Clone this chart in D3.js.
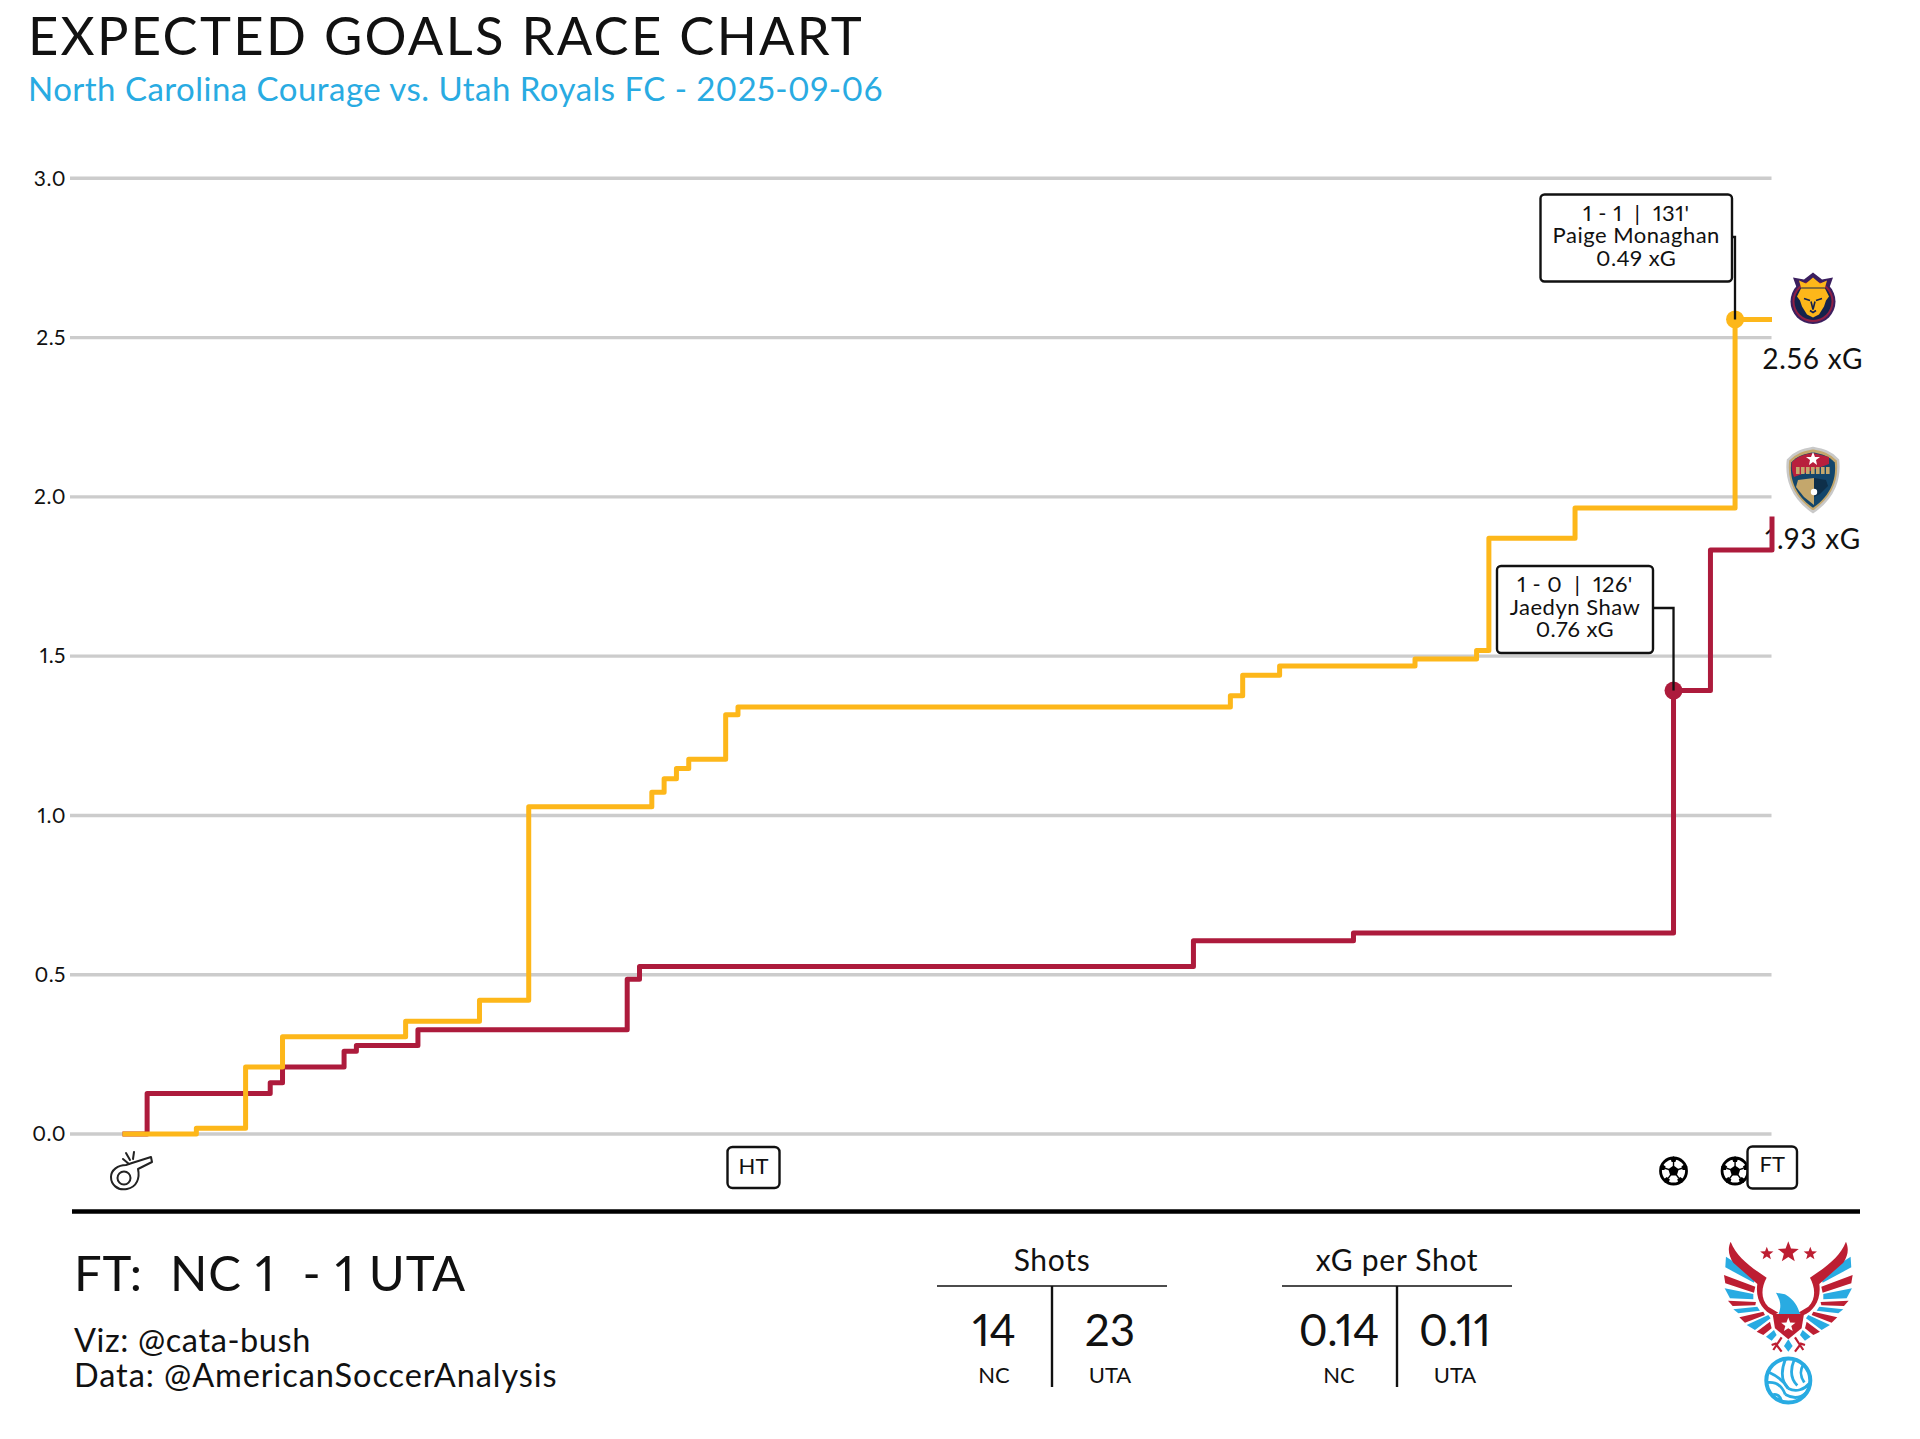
<!DOCTYPE html>
<html><head><meta charset="utf-8">
<script src="https://cdn.jsdelivr.net/npm/d3@7"></script>
<style>
html,body{margin:0;background:#fff}
svg{display:block}
text{font-family:Lato,"Open Sans",sans-serif;fill:#111;white-space:pre;font-variant-numeric:proportional-nums lining-nums}
</style></head><body>
<svg id="c" width="1920" height="1439"></svg>
<script>
const yTicks=[0,0.5,1,1.5,2,2.5,3];
const utaMinutes=[0,6,10,13,23,29,33,43,44,45,46,49,50,90,91,94,105,110,111,118,131,134];
const utaXg=[0,0.018,0.21,0.305,0.354,0.42,1.027,1.073,1.115,1.147,1.176,1.316,1.34,1.376,1.44,1.469,1.491,1.518,1.87,1.965,2.557,2.557];
const ncMinutes=[0,2,12,13,18,19,24,41,42,87,100,126,129,134];
const ncXg=[0,0.127,0.161,0.21,0.26,0.278,0.327,0.486,0.526,0.607,0.631,1.392,1.833,1.938];
const goalMinutes=[126,131];
const goalXg=[1.392,2.557];
const goalColors=["#ad1b3c","#fdb71a"];
const statHeaders=["Shots","xG per Shot"];
const statNC=["14","0.14"];
const statUTA=["23","0.11"];

const svg=d3.select("#c");
const x=d3.scaleLinear().domain([0,134]).range([122.5,1772]);
const y=d3.scaleLinear().domain([0,3]).range([1134,178.3]);
const RED="#ad1b3c",GOLD="#fdb71a",BLUE="#29abe2",BRED="#bd1e32";

function T(s,px,py,size,anchor,fill,ls){const t=svg.append("text").attr("x",px).attr("y",py).attr("font-size",size).attr("text-anchor",anchor||"start").text(s);if(fill)t.style("fill",fill);if(ls)t.attr("letter-spacing",ls);return t;}

T("EXPECTED GOALS RACE CHART",28,55,52.5,"start",null,2.3);
T("North Carolina Courage vs. Utah Royals FC - 2025-09-06",28,101,33,"start",BLUE,0.47);

// axis + grid
const ax=svg.append("g").attr("transform","translate(70,0)")
 .call(d3.axisLeft(y).tickValues(yTicks).tickFormat(d3.format(".1f")).tickSize(0).tickPadding(4));
ax.select(".domain").remove();
ax.selectAll("text").style("font-family","Lato,sans-serif").style("font-size","21px").style("fill","#111").attr("letter-spacing",0.5);
svg.append("g").selectAll("line").data(yTicks).join("line")
 .attr("x1",70).attr("x2",1771.5).attr("y1",d=>y(d)).attr("y2",d=>y(d))
 .attr("stroke","#cccccc").attr("stroke-width",3.4);

// lines
const line=d3.line().x(d=>x(d[0])).y(d=>y(d[1])).curve(d3.curveStepAfter);
const drawLine=(m,v,c)=>svg.append("path").datum(m.map((d,i)=>[d,v[i]])).attr("d",line)
 .attr("fill","none").attr("stroke",c).attr("stroke-width",5).attr("stroke-linejoin","round");

// end labels first: line sits over them
T("2.56 xG",1813,369,28,"middle",null,0.9);
T("1.93 xG",1813,549,28,"middle",null,0.9);
drawLine(ncMinutes,ncXg,RED);
drawLine(utaMinutes,utaXg,GOLD);

svg.append("g").selectAll("circle").data(goalMinutes).join("circle")
 .attr("cx",d=>x(d)).attr("cy",(d,i)=>y(goalXg[i])).attr("r",9).attr("fill",(d,i)=>goalColors[i]);

// annotations
function note(bx,by,w,h,lines,conn){
 svg.append("path").attr("d",conn).attr("fill","none").attr("stroke","#111").attr("stroke-width",2.3);
 svg.append("rect").attr("x",bx).attr("y",by).attr("width",w).attr("height",h).attr("rx",4).attr("fill","#fff").attr("stroke","#111").attr("stroke-width",2.4);
 const t=svg.append("text").attr("font-size",22).attr("text-anchor","middle").attr("letter-spacing",0.5);
 lines.forEach((s,i)=>t.append("tspan").attr("x",bx+w/2).attr("y",by+26+i*22.5).text(s));
}
note(1540.5,194.5,191.5,87,["1 - 1  |  131'","Paige Monaghan","0.49 xG"],`M1733,237H1735V${y(2.557)}`);
note(1497,566,156,87,["1 - 0  |  126'","Jaedyn Shaw","0.76 xG"],`M1653,608H${x(126)}V${y(1.392)}`);

// soccer ball icon
function ball(cx,cy){
 const g=svg.append("g").attr("transform",`translate(${cx},${cy})`);
 g.append("circle").attr("r",13).attr("fill","#fff").attr("stroke","#000").attr("stroke-width",2.8);
 const pent=(r,a0,px,py)=>d3.range(5).map(i=>{const a=a0+i*2*Math.PI/5;return [px+r*Math.cos(a),py+r*Math.sin(a)];});
 g.append("polygon").attr("points",pent(5.5,-Math.PI/2,0,0).join(" ")).attr("fill","#000");
 d3.range(5).forEach(i=>{
  const a=-Math.PI/2+i*2*Math.PI/5;
  const c=[11.5*Math.cos(a),11.5*Math.sin(a)];
  g.append("polygon").attr("points",pent(3.2,a,c[0],c[1]).join(" ")).attr("fill","#000");
  g.append("line").attr("x1",4.5*Math.cos(a)).attr("y1",4.5*Math.sin(a)).attr("x2",9*Math.cos(a)).attr("y2",9*Math.sin(a)).attr("stroke","#000").attr("stroke-width",1.4);
 });
}
goalMinutes.forEach(m=>ball(x(m),1171));

// HT / FT
function tag(s,bx,by,w,h,ty){
 svg.append("rect").attr("x",bx).attr("y",by).attr("width",w).attr("height",h).attr("rx",5).attr("fill","#fff").attr("stroke","#111").attr("stroke-width",2.4);
 T(s,bx+w/2,ty,22,"middle");
}
tag("HT",727.5,1147,52,41,1174);
tag("FT",1747.5,1146.5,49.5,42,1172);

// whistle
const wh=svg.append("g").attr("fill","none").attr("stroke","#222").attr("stroke-width",2).attr("stroke-linecap","round").attr("stroke-linejoin","round");
wh.append("path").attr("d","M132,1163 L151,1157 L152,1162 L138,1169 C140,1178 137,1187 127,1189 C117,1191 111,1184 111,1177 C111,1170 118,1165 126,1165 Z");
wh.append("circle").attr("cx",124).attr("cy",1178).attr("r",6.5);
wh.append("path").attr("d","M123,1159 L129,1164 M126,1153 L130,1160 M134,1152 L133,1159");

// footer
svg.append("line").attr("x1",72).attr("x2",1860).attr("y1",1211.5).attr("y2",1211.5).attr("stroke","#000").attr("stroke-width",4.5);
T("FT:  NC 1  - 1 UTA",74,1291,49,"start",null,0.9);
T("Viz: @cata-bush",74,1352,32.5,"start",null,0.6);
T("Data: @AmericanSoccerAnalysis",74,1387,32.5,"start",null,0.93);

const statCx=[1052,1397];
statHeaders.forEach((h,i)=>{
 const c=statCx[i];
 T(h,c,1271,30,"middle",null,0.7);
 svg.append("line").attr("x1",c-115).attr("x2",c+115).attr("y1",1286).attr("y2",1286).attr("stroke","#111").attr("stroke-width",1.5);
 svg.append("line").attr("x1",c).attr("x2",c).attr("y1",1286).attr("y2",1387).attr("stroke","#111").attr("stroke-width",2.4);
 T(statNC[i],c-58,1346,44,"middle");
 T(statUTA[i],c+58,1346,44,"middle");
 T("NC",c-58,1383,22,"middle");
 T("UTA",c+58,1383,22,"middle");
});

// Utah Royals crest
const lion=svg.append("g").attr("transform","translate(1813,301.5)");
lion.append("polygon").attr("points","-20,-24 -9,-22 0,-29 9,-22 20,-24 15,-10 -15,-10").attr("fill","#3b1f5f");
lion.append("circle").attr("r",22.5).attr("fill","#3b1f5f");
lion.append("circle").attr("r",20.5).attr("fill","#8f1f45");
lion.append("circle").attr("r",18.5).attr("fill","#15224c");
lion.append("polygon").attr("points","-14,-21 -7,-18 0,-24 7,-18 14,-21 12,-14 -12,-14").attr("fill","#fdb71a");
lion.append("path").attr("d","M-12,-13 L12,-13 L16,-5 L13,-1 L11,5 L6,13 L0,16 L-6,13 L-11,5 L-13,-1 L-16,-5 Z").attr("fill","#fdb71a");
lion.append("path").attr("d","M-9,-3 L-3,-1 M9,-3 L3,-1 M-3,9 L0,11 L3,9 M-2,0 L0,8 L2,0").attr("stroke","#15224c").attr("stroke-width",1.6).attr("fill","none");

// NC Courage crest
const nc=svg.append("g").attr("transform","translate(1813,480)");
const shield="M0,-32 C10,-30 18,-28 25,-20 C27,-3 22,17 0,32 C-22,17 -27,-3 -25,-20 C-18,-28 -10,-30 0,-32 Z";
nc.append("path").attr("d",shield).attr("fill","#c4a76c").attr("stroke","#c9c9c9").attr("stroke-width",2.5);
nc.append("path").attr("d",shield).attr("transform","scale(.87)").attr("fill","#13466b");
nc.append("path").attr("d","M-21,-18 C-15,-24 -8,-26 0,-27 L16,-23 L16,-16 L-19,-3 C-21,-8 -22,-13 -21,-18 Z").attr("fill","#b81f3d");
nc.append("path").attr("d","M1,-2 L-15,0 L-17,7 L-9,17 L1,25 Z").attr("fill","#c4a76c");
nc.append("path").attr("d","M1,-2 L13,0 L15,6 L7,14 L1,17 Z").attr("fill","#0e2f4a");
nc.append("circle").attr("cx",1).attr("cy",12).attr("r",3.2).attr("fill","#fff");
nc.append("polygon").attr("points","0,-28 2,-23 7,-23 3,-20 4,-15 0,-18 -4,-15 -3,-20 -7,-23 -2,-23").attr("fill","#fff");
nc.selectAll("rect").data(d3.range(7)).join("rect").attr("x",d=>-17+d*5).attr("y",-13).attr("width",3.6).attr("height",7).attr("fill","#c4a76c");

// eagle logo (left wing mirrored)
const ex=z=>(z-565)/3, ey=z=>z/3;
const logo=svg.append("g").attr("transform","translate(1788.3,1130)");
const P=a=>a.map(p=>[ex(p[0]),ey(p[1])].join(",")).join(" ");
const feathers=[
 [BLUE,[[378,380],[468,438],[462,458],[376,412]]],
 [BRED,[[372,435],[466,470],[462,488],[376,460]]],
 [BLUE,[[374,475],[460,492],[460,508],[390,505]]],
 [BRED,[[384,512],[468,516],[466,526],[398,528]]],
 [BLUE,[[400,538],[472,530],[480,542],[415,550]]],
 [BRED,[[418,562],[490,545],[495,555],[435,578]]],
 [BLUE,[[440,585],[505,555],[512,565],[465,600]]],
 [BRED,[[470,605],[510,575],[515,595],[490,615]]],
 [BLUE,[[498,620],[522,600],[530,615],[515,632]]]
];
[1,-1].forEach(s=>{
 const w=logo.append("g").attr("transform",`scale(${s},1)`);
 feathers.forEach(f=>w.append("polygon").attr("points",P(f[1])).attr("fill",f[0]));
 w.append("path").attr("fill",BRED).attr("d",`M${ex(392)},${ey(335)} C${ex(410)},${ey(380)} ${ex(450)},${ey(410)} ${ex(500)},${ey(443)} C${ex(485)},${ey(470)} ${ex(480)},${ey(505)} ${ex(505)},${ey(530)} L${ex(535)},${ey(548)} L${ex(520)},${ey(556)} C${ex(490)},${ey(545)} ${ex(465)},${ey(510)} ${ex(472)},${ey(462)} L${ex(400)},${ey(398)} C${ex(385)},${ey(375)} ${ex(383)},${ey(355)} ${ex(392)},${ey(335)} Z`);
 w.append("path").attr("d",`M${ex(545)},${ey(622)} L${ex(530)},${ey(645)} M${ex(530)},${ey(640)} L${ex(515)},${ey(645)} M${ex(530)},${ey(645)} L${ex(520)},${ey(660)} M${ex(530)},${ey(645)} L${ex(545)},${ey(665)}`).attr("stroke",BRED).attr("stroke-width",2.2).attr("fill","none");
});
logo.append("path").attr("fill",BRED).attr("d",`M${ex(518)},${ey(552)} H${ex(612)} L${ex(605)},${ey(595)} L${ex(565)},${ey(628)} L${ex(525)},${ey(595)} Z`);
logo.append("path").attr("fill",BLUE).attr("d",`M${ex(528)},${ey(488)} L${ex(555)},${ey(493)} C${ex(582)},${ey(508)} ${ex(594)},${ey(530)} ${ex(600)},${ey(552)} L${ex(536)},${ey(552)} C${ex(546)},${ey(525)} ${ex(540)},${ey(510)} ${ex(528)},${ey(488)} Z`);
logo.append("path").attr("fill",BLUE).attr("d",`M${ex(565)},${ey(628)} L${ex(578)},${ey(648)} L${ex(565)},${ey(665)} L${ex(552)},${ey(648)} Z`);
const star=(cx,cy,r,c,g)=>{const pts=d3.range(10).map(i=>{const a=-Math.PI/2+i*Math.PI/5,q=i%2?r*.42:r;return [cx+q*Math.cos(a),cy+q*Math.sin(a)];});g.append("polygon").attr("points",pts.join(" ")).attr("fill",c);};
star(0,ey(585),7.5,"#fff",logo);
star(0,ey(367),11,BRED,logo);
star(-21.5,ey(371),7,BRED,logo);
star(22,ey(371),7,BRED,logo);

// volleyball
const vb=svg.append("g").attr("transform","translate(1788.3,1380.5)").attr("fill","none").attr("stroke",BLUE);
vb.append("circle").attr("r",22).attr("stroke-width",4);
vb.selectAll("path").data(["M-3,-21 C-8,-8 -6,2 0,8 M6,-21 C1,-9 3,-1 9,5 M15,-16 C11,-9 12,-4 16,2",
 "M-19,-8 C-10,-4 -3,3 0,8 M-21,2 C-12,1 -6,6 -3,14 M-15,14 C-11,13 -8,16 -7,20",
 "M0,8 C8,12 16,9 21,3 M-3,14 C6,19 13,17 18,12"]).join("path").attr("d",d=>d).attr("stroke-width",2.8);
</script>
</body></html>
